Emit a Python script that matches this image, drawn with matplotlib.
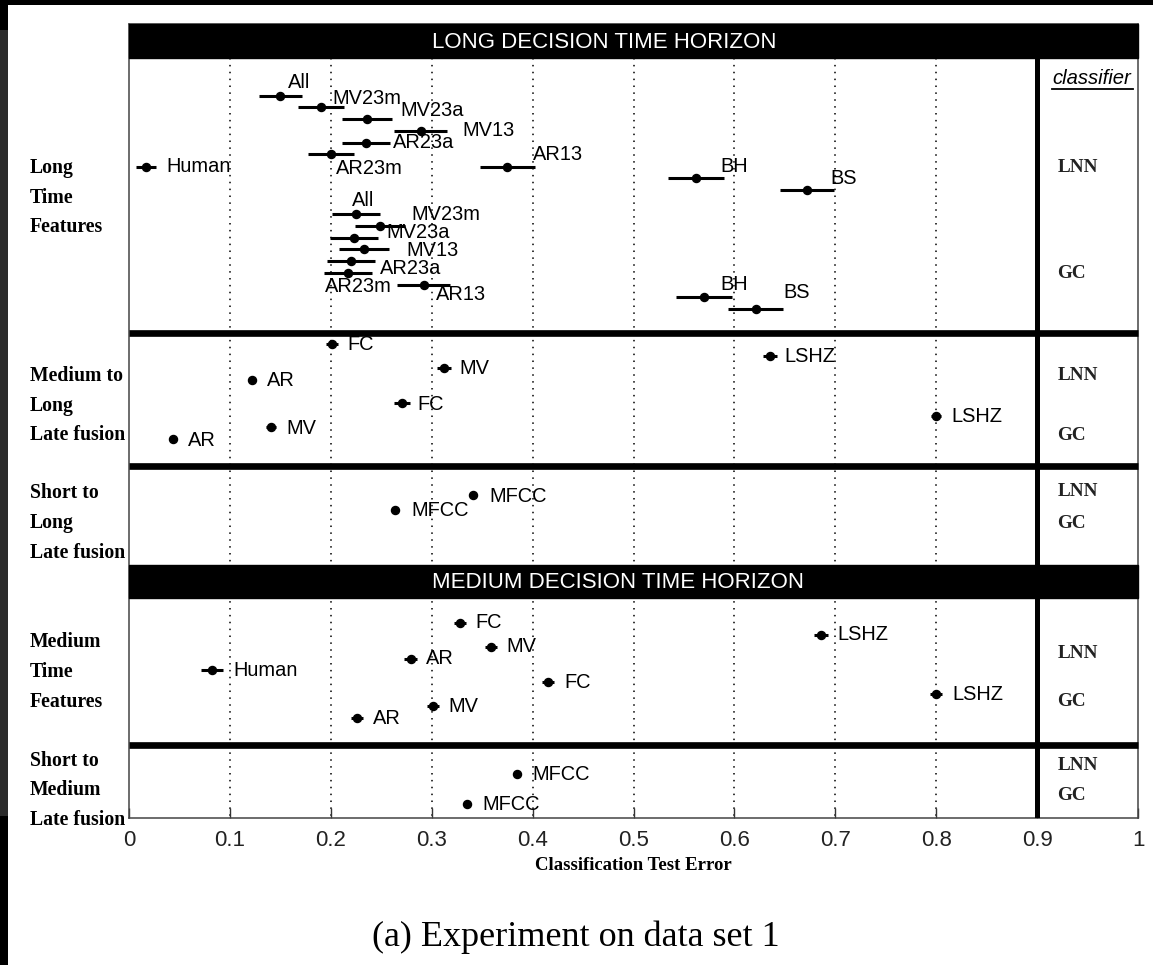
import matplotlib
matplotlib.use("Agg")
import matplotlib.pyplot as plt
from matplotlib.patches import Rectangle

# ---------------- data ----------------
# Long decision time horizon, long time features
lnn_long_names = ['Human', 'All', 'MV23m', 'MV23a', 'MV13', 'AR23a', 'AR23m', 'AR13', 'BH', 'BS']
lnn_long_err = [0.017, 0.150, 0.190, 0.236, 0.289, 0.235, 0.200, 0.375, 0.562, 0.672]
lnn_long_ci = [0.010, 0.021, 0.023, 0.025, 0.026, 0.024, 0.023, 0.027, 0.028, 0.027]
gc_long_names = ['All', 'MV23m', 'MV23a', 'MV13', 'AR23a', 'AR23m', 'AR13', 'BH', 'BS']
gc_long_err = [0.225, 0.249, 0.223, 0.233, 0.220, 0.217, 0.292, 0.570, 0.621]
gc_long_ci = [0.024, 0.025, 0.024, 0.025, 0.024, 0.024, 0.026, 0.028, 0.027]

# Medium to long late fusion
lnn_ml_names = ['FC', 'MV', 'AR', 'LSHZ']
lnn_ml_err = [0.201, 0.3125, 0.1215, 0.635]
lnn_ml_ci = [0.006, 0.007, 0.003, 0.007]
gc_ml_names = ['FC', 'MV', 'AR', 'LSHZ']
gc_ml_err = [0.2705, 0.141, 0.0435, 0.800]
gc_ml_ci = [0.008, 0.005, 0.002, 0.005]

# Short to long late fusion
lnn_sl_names = ['MFCC']
lnn_sl_err = [0.341]
lnn_sl_ci = [0.002]
gc_sl_names = ['MFCC']
gc_sl_err = [0.264]
gc_sl_ci = [0.002]

# Medium decision time horizon, medium time features
lnn_med_names = ['FC', 'MV', 'AR', 'Human', 'LSHZ']
lnn_med_err = [0.328, 0.359, 0.279, 0.0825, 0.686]
lnn_med_ci = [0.006, 0.006, 0.006, 0.011, 0.007]
gc_med_names = ['FC', 'MV', 'AR', 'LSHZ']
gc_med_err = [0.4154, 0.301, 0.226, 0.800]
gc_med_ci = [0.006, 0.006, 0.006, 0.006]

# Short to medium late fusion
lnn_sm_names = ['MFCC']
lnn_sm_err = [0.385]
lnn_sm_ci = [0.002]
gc_sm_names = ['MFCC']
gc_sm_err = [0.335]
gc_sm_ci = [0.002]

x_ticks = [0, 0.1, 0.2, 0.3, 0.4, 0.5, 0.6, 0.7, 0.8, 0.9, 1]
x_tick_labels = ['0', '0.1', '0.2', '0.3', '0.4', '0.5', '0.6', '0.7', '0.8', '0.9', '1']

# ---------------- layout (pixel rows, label offsets) ----------------
W, H = 1153, 965
AX_L, AX_R, AX_T, AX_B = 129, 1138, 24, 818

groups = [
    # names, err, ci, rows, label offsets (dx data, dy px)
    (lnn_long_names, lnn_long_err, lnn_long_ci,
     [167, 96, 107, 119, 131, 143, 154, 167, 178, 190],
     [(0.020, 0), (0.008, -13), (0.012, -8), (0.033, -9), (0.041, 0), (0.027, 0),
      (0.005, 14), (0.025, -13), (0.024, -12), (0.023, -12)]),
    (gc_long_names, gc_long_err, gc_long_ci,
     [214, 226, 238, 249, 261, 273, 285, 297, 309],
     [(-0.004, -13), (0.031, -12), (0.032, -6), (0.042, 1), (0.029, 7),
      (-0.023, 14), (0.012, 10), (0.016, -13), (0.028, -16)]),
    (lnn_ml_names, lnn_ml_err, lnn_ml_ci, [344, 368, 380, 356], [(0.015, 1)] * 4),
    (gc_ml_names, gc_ml_err, gc_ml_ci, [403, 427, 439, 416], [(0.015, 1)] * 4),
    (lnn_sl_names, lnn_sl_err, lnn_sl_ci, [495], [(0.016, 1)]),
    (gc_sl_names, gc_sl_err, gc_sl_ci, [510], [(0.016, 1)]),
    (lnn_med_names, lnn_med_err, lnn_med_ci, [623, 647, 659, 670, 635],
     [(0.0155, 0), (0.0155, 0), (0.015, 0), (0.0205, 0), (0.016, 0)]),
    (gc_med_names, gc_med_err, gc_med_ci, [682, 706, 718, 694], [(0.016, 0)] * 4),
    (lnn_sm_names, lnn_sm_err, lnn_sm_ci, [774], [(0.015, 0)]),
    (gc_sm_names, gc_sm_err, gc_sm_ci, [804], [(0.015, 0)]),
]

left_labels = [
    ('Long', 168), ('Time', 198), ('Features', 227),
    ('Medium to', 376), ('Long', 406), ('Late fusion', 435),
    ('Short to', 493), ('Long', 523), ('Late fusion', 553),
    ('Medium', 642), ('Time', 672), ('Features', 702),
    ('Short to', 761), ('Medium', 790), ('Late fusion', 820),
]
classifier_labels = [
    ('LNN', 168), ('GC', 274), ('LNN', 376), ('GC', 436), ('LNN', 492), ('GC', 523),
    ('LNN', 654), ('GC', 702), ('LNN', 766), ('GC', 796),
]

SANS = 'Liberation Sans'
SERIF = 'Liberation Serif'

fig = plt.figure(figsize=(W / 100, H / 100), dpi=100)
fig.patch.set_facecolor('white')

# scanned-page border artifacts
fig.patches.append(Rectangle((0, 1 - 5 / H), 1, 5 / H, transform=fig.transFigure,
                             facecolor='black', edgecolor='none', zorder=0))
fig.patches.append(Rectangle((0, 1 - 30 / H), 8 / W, 30 / H, transform=fig.transFigure,
                             facecolor='black', edgecolor='none', zorder=0))
fig.patches.append(Rectangle((0, 1 - 816 / H), 8 / W, 786 / H, transform=fig.transFigure,
                             facecolor='#2b2b2b', edgecolor='none', zorder=0))
fig.patches.append(Rectangle((0, 0), 8 / W, 1 - 816 / H, transform=fig.transFigure,
                             facecolor='black', edgecolor='none', zorder=0))

ax = fig.add_axes([AX_L / W, 1 - AX_B / H, (AX_R - AX_L) / W, (AX_B - AX_T) / H])
ax.set_xlim(0, 1)
ax.set_ylim(AX_B, AX_T)
for s in ax.spines.values():
    s.set_color('#444444')
    s.set_linewidth(1.1)

ax.set_yticks([])
ax.set_xticks(x_ticks)
ax.set_xticklabels(x_tick_labels, fontfamily=SANS, fontsize=16, color='#222222')
ax.tick_params(axis='x', direction='in', length=7.2, width=1.0, pad=9, color='#333333')

# dotted grid lines
for xv in x_ticks[1:9]:
    ax.plot([xv, xv], [58, AX_B], color='black', lw=1.1, ls=(0, (1, 3.5)), zorder=1)

# thick vertical line at 0.9
ax.plot([0.9, 0.9], [58, AX_B], color='black', lw=3.6, zorder=3, solid_capstyle='butt')

# separators
for yv in [332.5, 466, 745]:
    ax.plot([0, 1], [yv, yv], color='black', lw=4.8, zorder=4, solid_capstyle='butt',
            clip_on=False)

# title bars
for (y0, y1, txt) in [(24, 58, 'LONG DECISION TIME HORIZON'),
                      (565, 598, 'MEDIUM DECISION TIME HORIZON')]:
    ax.add_patch(Rectangle((0, y0), 1, y1 - y0, facecolor='black', edgecolor='black',
                           zorder=5, clip_on=False))
    ax.text(0.300, (y0 + y1) / 2 + 1, txt, color='white', fontfamily=SANS, fontsize=16,
            ha='left', va='center', zorder=6)

# data points with error bars and labels
for names, err, ci, rows, offs in groups:
    ax.errorbar(err, rows, xerr=ci, fmt='o', color='black', ms=5.8, elinewidth=2.2,
                capsize=0, zorder=7)
    for n, e, r, (dx, dy) in zip(names, err, rows, offs):
        ax.text(e + dx, r + dy, n, fontfamily=SANS, fontsize=14.4, ha='left',
                va='center', zorder=8)

# left row labels
for txt, yv in left_labels:
    ax.text((30 - AX_L) / (AX_R - AX_L), yv, txt, fontfamily=SERIF, fontweight='bold',
            fontsize=14.2, ha='left', va='center', clip_on=False)

# classifier column labels
for txt, yv in classifier_labels:
    ax.text(0.920, yv, txt, fontfamily=SERIF, fontweight='bold', fontsize=13.8,
            ha='left', va='center', color='#222222')
ax.text(0.9147, 78, 'classifier', fontfamily=SANS, fontstyle='italic', fontsize=14.6,
        ha='left', va='center')
ax.plot([0.9147, 0.9955], [89, 89], color='black', lw=1.3, zorder=8)

# axis label and caption
fig.text((AX_L + AX_R) / 2 / W, 1 - 866 / H, 'Classification Test Error', fontfamily=SERIF,
         fontweight='bold', fontsize=13.5, ha='center', va='center')
fig.text(576 / W, 1 - 937 / H, '(a) Experiment on data set 1', fontfamily=SERIF,
         fontsize=26, ha='center', va='center')

fig.savefig('out.png', dpi=100, facecolor='white')
